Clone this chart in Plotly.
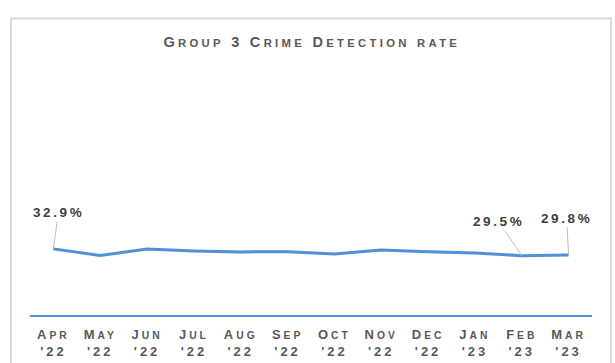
import plotly.graph_objects as go

# Monthly detection rate, April 2022 to March 2023
months = ["Apr", "May", "Jun", "Jul", "Aug", "Sep", "Oct", "Nov", "Dec", "Jan", "Feb", "Mar"]
years = ["'22", "'22", "'22", "'22", "'22", "'22", "'22", "'22", "'22", "'23", "'23", "'23"]
rate = [32.9, 29.6, 32.8, 31.9, 31.4, 31.5, 30.3, 32.3, 31.5, 30.9, 29.5, 29.8]
title_text = "Group 3 Crime Detection rate"

# months that carry a value label, with label offsets (pixels)
labelled = {0: (5, -36), 10: (-23, -34), 11: (-2, -37)}

BLUE = "#4f90d8"
GREY = "#595959"
FONT = "Liberation Sans"


def small_caps(s, small_size, spacing):
    """Render lowercase letters as reduced capitals, with letter spacing."""
    out, run, is_low = [], "", None
    for ch in s + "\0":
        low = ch.islower()
        if ch == "\0" or (is_low is not None and low != is_low):
            if run:
                style = f"letter-spacing:{spacing}px"
                if is_low:
                    style += f";font-size:{small_size}px"
                    run = run.upper()
                out.append(f"<span style='{style}'>{run}</span>")
            run = ""
        run += ch
        is_low = low
    return "".join(out)


ticktext = [f"{small_caps(m, 10.3, 3)}<br>{small_caps(y, 10.3, 3)}" for m, y in zip(months, years)]

fig = go.Figure()
fig.add_trace(go.Scatter(
    x=list(range(len(months))), y=rate, mode="lines",
    line=dict(color=BLUE, width=3), hoverinfo="skip",
))

for i, (ax, ay) in labelled.items():
    fig.add_annotation(
        x=i, y=rate[i], xref="x", yref="y",
        text=f"<span style='letter-spacing:2.6px'>{rate[i]:.1f}%</span>",
        showarrow=True, arrowhead=0, arrowwidth=1, arrowcolor="#bfbfbf",
        ax=ax, ay=ay, standoff=0, startstandoff=0,
        font=dict(family=FONT, size=13.5, color="#404040", weight="bold"),
    )

# outer frame of the chart area
fig.add_shape(
    type="rect", xref="paper", yref="paper",
    x0=-0.0338, x1=1.0338, y0=-0.4, y1=1.475,
    line=dict(color="#d9d9d9", width=2), fillcolor="rgba(0,0,0,0)", layer="below",
)

fig.update_layout(
    width=615, height=363,
    margin=dict(l=30, r=23, t=114, b=48),
    paper_bgcolor="white", plot_bgcolor="white",
    showlegend=False,
    title=dict(
        text=small_caps(title_text, 11.3, 3.3),
        x=0.507, xanchor="center", y=1 - 42 / 363, yanchor="middle", yref="container",
        font=dict(family=FONT, size=14.5, color=GREY, weight="bold"),
        automargin=False,
    ),
    xaxis=dict(
        range=[-0.5, len(months) - 0.5],
        tickmode="array", tickvals=list(range(len(months))), ticktext=ticktext,
        showgrid=False, zeroline=False,
        showline=True, linecolor=BLUE, linewidth=2,
        ticks="outside", ticklen=6, tickcolor="rgba(0,0,0,0)",
        tickfont=dict(family=FONT, size=13, color=GREY, weight="bold"),
        automargin=False, fixedrange=True,
    ),
    yaxis=dict(range=[0, 100], visible=False, showgrid=False, zeroline=False,
               automargin=False, fixedrange=True),
)

fig.write_html("out.html")
